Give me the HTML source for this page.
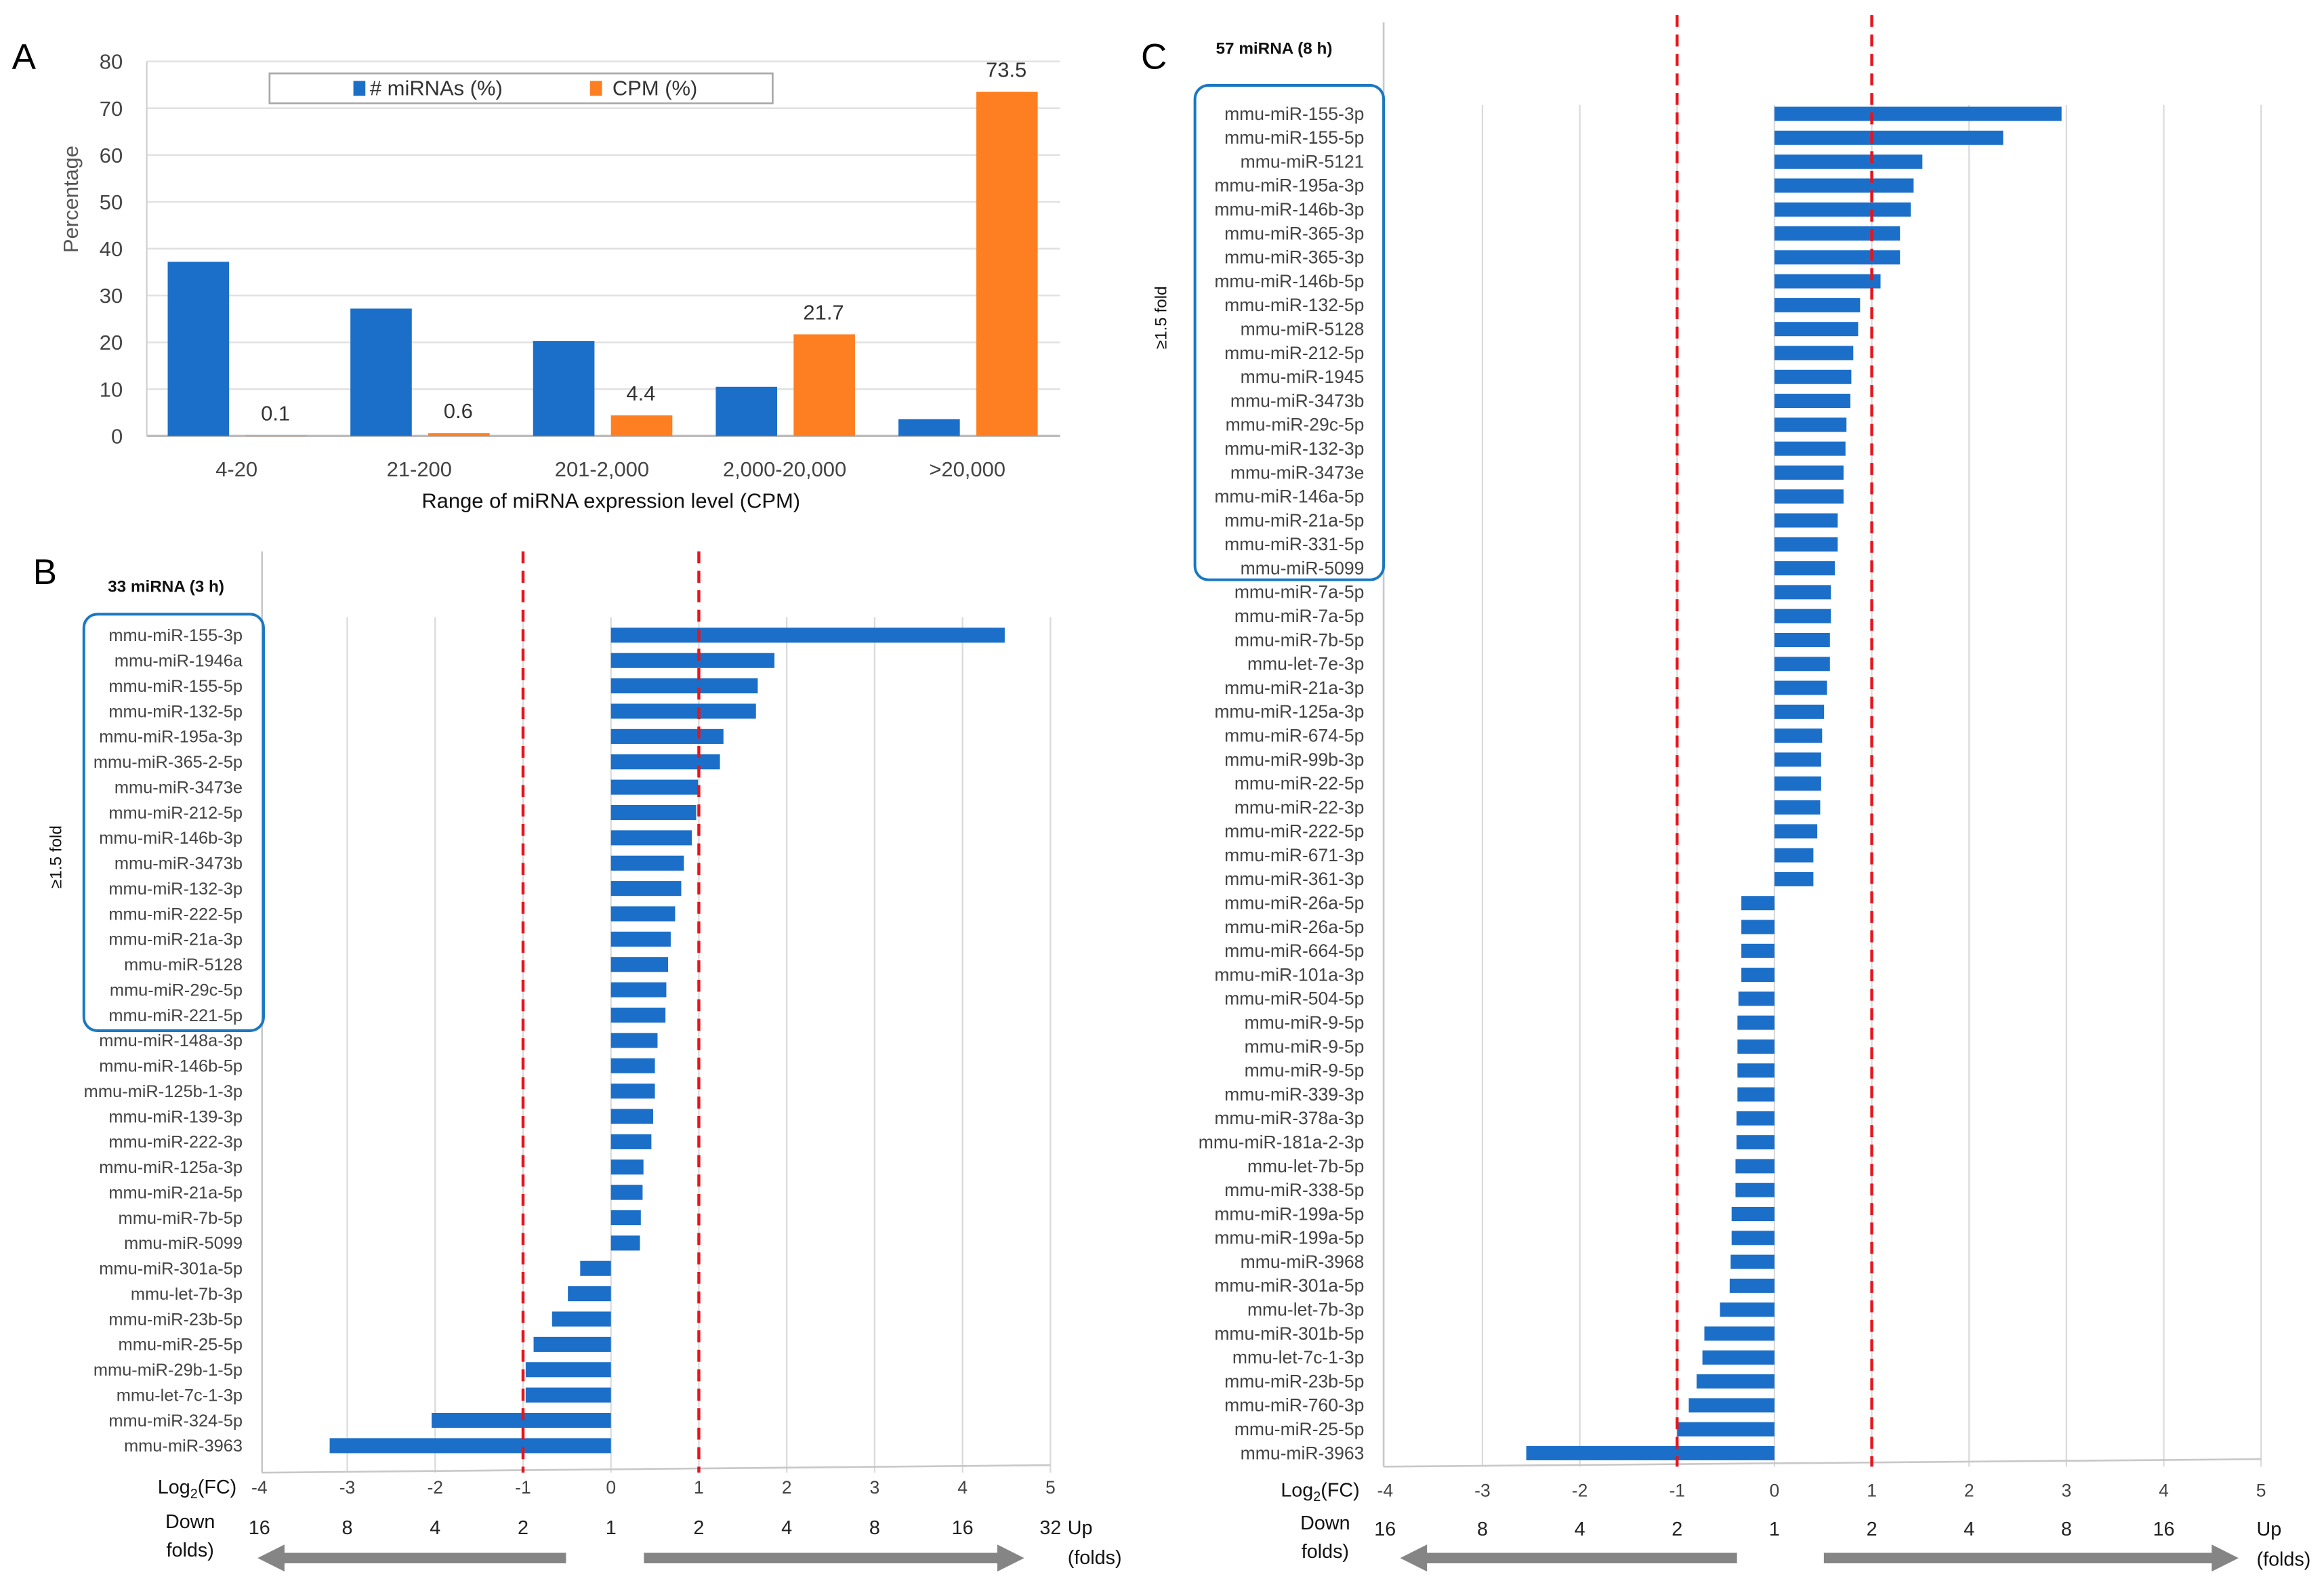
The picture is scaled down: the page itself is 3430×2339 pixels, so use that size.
<!DOCTYPE html>
<html><head><meta charset="utf-8">
<style>
html,body{margin:0;padding:0;background:#fff;}
svg{display:block;}
text{font-family:"Liberation Sans",sans-serif;}
</style></head>
<body>
<svg id="fig" width="3430" height="2339" viewBox="0 0 1552 1058" preserveAspectRatio="none" xmlns="http://www.w3.org/2000/svg">
<g id="panelA"></g>
<g id="panelB"></g>
<g id="panelC"></g>
</svg>
<script>
// Panel A data
const aCategories = ["4-20","21-200","201-2,000","2,000-20,000",">20,000"];
const aMirnaPct = [37.2, 27.2, 20.3, 10.5, 3.6];
const aCpmPct = [0.1, 0.6, 4.4, 21.7, 73.5];
const aCpmLabels = ["0.1","0.6","4.4","21.7","73.5"];
const aTicks = [0,10,20,30,40,50,60,70,80];

// Panel B data
const bLabels = ["mmu-miR-155-3p","mmu-miR-1946a","mmu-miR-155-5p","mmu-miR-132-5p","mmu-miR-195a-3p","mmu-miR-365-2-5p","mmu-miR-3473e","mmu-miR-212-5p","mmu-miR-146b-3p","mmu-miR-3473b","mmu-miR-132-3p","mmu-miR-222-5p","mmu-miR-21a-3p","mmu-miR-5128","mmu-miR-29c-5p","mmu-miR-221-5p","mmu-miR-148a-3p","mmu-miR-146b-5p","mmu-miR-125b-1-3p","mmu-miR-139-3p","mmu-miR-222-3p","mmu-miR-125a-3p","mmu-miR-21a-5p","mmu-miR-7b-5p","mmu-miR-5099","mmu-miR-301a-5p","mmu-let-7b-3p","mmu-miR-23b-5p","mmu-miR-25-5p","mmu-miR-29b-1-5p","mmu-let-7c-1-3p","mmu-miR-324-5p","mmu-miR-3963"];
const bValues = [4.48,1.86,1.67,1.65,1.28,1.24,0.99,0.97,0.92,0.83,0.80,0.73,0.68,0.65,0.63,0.62,0.53,0.50,0.50,0.48,0.46,0.37,0.36,0.34,0.33,-0.35,-0.49,-0.67,-0.88,-0.97,-0.97,-2.04,-3.2];

// Panel C data
const cLabels = ["mmu-miR-155-3p","mmu-miR-155-5p","mmu-miR-5121","mmu-miR-195a-3p","mmu-miR-146b-3p","mmu-miR-365-3p","mmu-miR-365-3p","mmu-miR-146b-5p","mmu-miR-132-5p","mmu-miR-5128","mmu-miR-212-5p","mmu-miR-1945","mmu-miR-3473b","mmu-miR-29c-5p","mmu-miR-132-3p","mmu-miR-3473e","mmu-miR-146a-5p","mmu-miR-21a-5p","mmu-miR-331-5p","mmu-miR-5099","mmu-miR-7a-5p","mmu-miR-7a-5p","mmu-miR-7b-5p","mmu-let-7e-3p","mmu-miR-21a-3p","mmu-miR-125a-3p","mmu-miR-674-5p","mmu-miR-99b-3p","mmu-miR-22-5p","mmu-miR-22-3p","mmu-miR-222-5p","mmu-miR-671-3p","mmu-miR-361-3p","mmu-miR-26a-5p","mmu-miR-26a-5p","mmu-miR-664-5p","mmu-miR-101a-3p","mmu-miR-504-5p","mmu-miR-9-5p","mmu-miR-9-5p","mmu-miR-9-5p","mmu-miR-339-3p","mmu-miR-378a-3p","mmu-miR-181a-2-3p","mmu-let-7b-5p","mmu-miR-338-5p","mmu-miR-199a-5p","mmu-miR-199a-5p","mmu-miR-3968","mmu-miR-301a-5p","mmu-let-7b-3p","mmu-miR-301b-5p","mmu-let-7c-1-3p","mmu-miR-23b-5p","mmu-miR-760-3p","mmu-miR-25-5p","mmu-miR-3963"];
const cValues = [2.95,2.35,1.52,1.43,1.40,1.29,1.29,1.09,0.88,0.86,0.81,0.79,0.78,0.74,0.73,0.71,0.71,0.65,0.65,0.62,0.58,0.58,0.57,0.57,0.54,0.51,0.49,0.48,0.48,0.47,0.44,0.40,0.40,-0.34,-0.34,-0.34,-0.34,-0.37,-0.38,-0.38,-0.38,-0.38,-0.39,-0.39,-0.40,-0.40,-0.44,-0.44,-0.45,-0.46,-0.56,-0.72,-0.74,-0.80,-0.88,-1.0,-2.55];

const logTicks = [-4,-3,-2,-1,0,1,2,3,4,5];
const bFoldLabels = ["16","8","4","2","1","2","4","8","16","32"];
const cFoldLabels = ["16","8","4","2","1","2","4","8","16",""];

const NS = "http://www.w3.org/2000/svg";
const BLUE = "#1c6fc8", ORANGE = "#fd7f22";
function mk(parent, tag, attrs, txt){
  const e = document.createElementNS(NS, tag);
  for (const k in attrs) e.setAttribute(k, attrs[k]);
  if (txt !== undefined) e.textContent = txt;
  parent.appendChild(e);
  return e;
}

// ---------- Panel A ----------
(function(){
  const g = document.getElementById("panelA");
  const x0 = 98, x1 = 708, yTop = 41, yBot = 291;
  const ys = v => yBot - (v/80)*(yBot-yTop);
  const cw = (x1-x0)/aCategories.length;
  const xc = i => x0 + 60 + i*cw;
  let t = mk(g,"text",{x:8,y:46,"font-size":24});
  t.textContent = "A";
  
  
  aTicks.forEach(v=>{
    let l = mk(g,"line",{x1:x0,x2:x1,y1:ys(v),y2:ys(v),stroke:v===0?"#bdbdbd":"#e2e2e2","stroke-width":v===0?1.5:1.2});
    
    
    let tt = mk(g,"text",{x:82,y:ys(v)+5,"font-size":14,"text-anchor":"end",fill:"#444"},String(v));
    
    
  });
  let ax = mk(g,"line",{x1:x0,x2:x0,y1:yTop,y2:yBot,stroke:"#d0d0d0","stroke-width":1});
  
  
  let yt = mk(g,"text",{x:52,y:133,"font-size":14,"text-anchor":"middle",fill:"#555",transform:"rotate(-90 52 133)"},"Percentage");
  
  
  aCategories.forEach((c,i)=>{
    const cx = xc(i);
    let b = mk(g,"rect",{x:cx-46,y:ys(aMirnaPct[i]),width:41,height:yBot-ys(aMirnaPct[i]),fill:BLUE});
    
    
    let o = mk(g,"rect",{x:cx+6,y:ys(aCpmPct[i]),width:41,height:yBot-ys(aCpmPct[i]),fill:ORANGE});
    
    
    let lb = mk(g,"text",{x:cx+26,y:ys(aCpmPct[i])-10,"font-size":14,"text-anchor":"middle",fill:"#333"},aCpmLabels[i]);
    
    
    let xl = mk(g,"text",{x:cx,y:318,"font-size":14,"text-anchor":"middle",fill:"#444"},c);
    
    
  });
  let xt = mk(g,"text",{x:408,y:339,"font-size":14,"text-anchor":"middle",fill:"#111"},"Range of miRNA expression level (CPM)");
  
  
  const lg = mk(g,"g",{});
  
  
  mk(lg,"rect",{x:180,y:49,width:336,height:20,fill:"#fff",stroke:"#a8a8a8","stroke-width":1.2});
  let s1 = mk(lg,"rect",{x:236,y:54,width:8,height:10,fill:BLUE});
  
  
  let l1 = mk(lg,"text",{x:247,y:63.5,"font-size":14,fill:"#333"},"# miRNAs (%)");
  
  
  let s2 = mk(lg,"rect",{x:394,y:54,width:8,height:10,fill:ORANGE});
  
  
  let l2 = mk(lg,"text",{x:409,y:63.5,"font-size":14,fill:"#333"},"CPM (%)");
  
  
})();

// ---------- Bar panels B, C ----------
function drawFC(cfg){
  const g = document.getElementById(cfg.id);
  const xs = v => cfg.x0 + v*cfg.unit;
  const n = cfg.labels.length;
  const ys = i => cfg.rowTop + i*(cfg.rowBot-cfg.rowTop)/(n-1);
  let L = mk(g,"text",{x:cfg.letterX,y:cfg.letterY,"font-size":24},cfg.letter);
  
  
  let ti = mk(g,"text",{x:cfg.titleX,y:cfg.titleY,"font-size":11,"font-weight":"bold",fill:"#111"},cfg.title);
  
  
  logTicks.forEach((v,i)=>{
    if (v!==-4){
      let gl = mk(g,"line",{x1:xs(v),x2:xs(v),y1:cfg.gridTop,y2:cfg.axisY,stroke:"#dadada","stroke-width":1});
      
      
    }
    let tk = mk(g,"text",{x:xs(v),y:cfg.tickY,"font-size":12,"text-anchor":"middle",fill:"#444"},String(v));
    
    
    if (cfg.folds[i]){
      let fl = mk(g,"text",{x:xs(v),y:cfg.foldY,"font-size":13,"text-anchor":"middle",fill:"#222"},cfg.folds[i]);
      
      
    }
  });
  let va = mk(g,"line",{x1:cfg.axisX,x2:cfg.axisX,y1:cfg.axisTop,y2:cfg.axisY,stroke:"#c8c8c8","stroke-width":1.2});
  
  
  let ha = mk(g,"line",{x1:cfg.axisX,x2:xs(5),y1:cfg.axisY,y2:cfg.axisY-5,stroke:"#c8c8c8","stroke-width":1.2});
  
  
  cfg.labels.forEach((lab,i)=>{
    const v = cfg.values[i];
    const y = ys(i);
    let b = mk(g,"rect",{x:Math.min(xs(0),xs(v)),y:y-cfg.barH/2,width:Math.abs(xs(v)-xs(0)),height:cfg.barH,fill:BLUE});
    
    
    let tl = mk(g,"text",{x:cfg.labelX,y:y+4,"font-size":cfg.labelFs,"text-anchor":"end",fill:"#444"},lab);
    
    
  });
  [-1,1].forEach(v=>{
    let d = mk(g,"line",{x1:xs(v),x2:xs(v),y1:cfg.dashTop,y2:cfg.axisY,stroke:"#e8141c","stroke-width":2,"stroke-dasharray":"8 5"});
    
    
  });
  let bx = mk(g,"rect",{x:cfg.boxX,y:cfg.boxY,width:cfg.boxW,height:cfg.boxH,rx:9,fill:"none",stroke:"#1a78c2","stroke-width":1.8});
  
  
  let fo = mk(g,"text",{x:cfg.foldTX,y:cfg.foldTY,"font-size":11,"text-anchor":"middle",fill:"#111",transform:`rotate(-90 ${cfg.foldTX} ${cfg.foldTY})`},"≥1.5 fold");
  
  
  let lg = mk(g,"text",{x:cfg.logX,y:cfg.tickY,"font-size":13,"text-anchor":"end",fill:"#111"});
  
  
  lg.innerHTML = 'Log<tspan font-size="9" dy="3">2</tspan><tspan dy="-3">(FC)</tspan>';
  let dn = mk(g,"text",{x:cfg.downX,y:cfg.foldY-4,"font-size":13,"text-anchor":"middle",fill:"#111"},"Down");
  
  
  let df = mk(g,"text",{x:cfg.downX,y:cfg.foldY+15,"font-size":13,"text-anchor":"middle",fill:"#111"},"folds)");
  
  
  let up = mk(g,"text",{x:cfg.upX,y:cfg.foldY,"font-size":13,fill:"#111"},"Up");
  
  
  let uf = mk(g,"text",{x:cfg.upX,y:cfg.foldY+20,"font-size":13,fill:"#111"},"(folds)");
  
  
  const ay = cfg.arrowY;
  let la = mk(g,"polygon",{points:`${cfg.la[0]},${ay-3.5} ${cfg.la[1]+18},${ay-3.5} ${cfg.la[1]+18},${ay-9} ${cfg.la[1]},${ay} ${cfg.la[1]+18},${ay+9} ${cfg.la[1]+18},${ay+3.5} ${cfg.la[0]},${ay+3.5}`,fill:"#858585"});
  
  
  let ra = mk(g,"polygon",{points:`${cfg.ra[0]},${ay-3.5} ${cfg.ra[1]-18},${ay-3.5} ${cfg.ra[1]-18},${ay-9} ${cfg.ra[1]},${ay} ${cfg.ra[1]-18},${ay+9} ${cfg.ra[1]-18},${ay+3.5} ${cfg.ra[0]},${ay+3.5}`,fill:"#858585"});
  
  
}

drawFC({id:"panelB",labels:bLabels,values:bValues,x0:408,unit:58.7,rowTop:424,rowBot:965,barH:10,labelFs:11.5,
  letter:"B",letterX:22,letterY:390,title:"33 miRNA (3 h)",titleX:72,titleY:395,
  gridTop:412,axisTop:368,axisX:175,axisY:983,dashTop:368,labelX:162,
  boxX:56,boxY:410,boxW:120,boxH:278,foldTX:41,foldTY:572,
  tickY:997,foldY:1024,logX:158,downX:127,upX:713,arrowY:1040,la:[378,172],ra:[430,684],folds:bFoldLabels});
drawFC({id:"panelC",labels:cLabels,values:cValues,x0:1185,unit:65,rowTop:76,rowBot:970,barH:9.5,labelFs:12,
  letter:"C",letterX:762,letterY:46,title:"57 miRNA (8 h)",titleX:812,titleY:36,
  gridTop:70,axisTop:15,axisX:924,axisY:979,dashTop:10,labelX:911,
  boxX:798,boxY:57,boxW:126,boxH:330,foldTX:779,foldTY:212,
  tickY:999,foldY:1025,logX:908,downX:885,upX:1507,arrowY:1040,la:[1160,935],ra:[1218,1495],folds:cFoldLabels});
</script>
</body></html>
